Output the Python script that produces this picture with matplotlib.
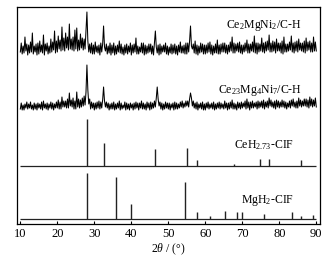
import numpy as np
import matplotlib
matplotlib.use('Agg')
import matplotlib.pyplot as plt

plt.rcParams['font.family'] = ['Liberation Serif', 'DejaVu Serif']
plt.rcParams['mathtext.fontset'] = 'custom'
plt.rcParams['mathtext.rm'] = 'Liberation Serif'
plt.rcParams['mathtext.it'] = 'Liberation Serif:italic'

# 2theta grid of the measured patterns (0.25 deg step, 10..90)
two_theta = np.arange(10, 90.001, 0.25)

# Ce2MgNi2/C-H measured intensity (a.u.), one row = 5 deg
ce2_mgni2 = [3, 12, 1, 9, 2, 18, 4, 11, 0, 10, 2, 13, 3, 22, 1, 9, 3, 11, 0, 12,
             1, 14, 3, 10, 2, 20, 0, 11, 4, 12, 1, 9, 2, 16, 3, 13, 5, 24, 2, 14,
             3, 19, 6, 15, 4, 28, 5, 17, 4, 22, 7, 18, 5, 31, 6, 16, 5, 18, 4, 25,
             6, 27, 4, 15, 5, 21, 7, 17, 5, 16, 6, 24, 43, 14, 3, 11, 2, 12, 1, 10,
             1, 13, 3, 9, 2, 10, 0, 12, 3, 11, 29, 8, 4, 11, 1, 9, 2, 12, 0, 10,
             2, 12, 0, 9, 1, 10, 3, 14, 2, 11, 1, 8, 0, 10, 2, 11, 1, 9, 3, 12,
             0, 10, 2, 11, 3, 17, 1, 9, 1, 8, 3, 12, 2, 12, 0, 10, 1, 9, 2, 11,
             3, 11, 1, 9, 0, 12, 24, 8, 2, 10, 0, 11, 1, 9, 3, 10, 3, 12, 1, 9,
             0, 8, 2, 11, 1, 10, 2, 11, 1, 9, 0, 10, 3, 13, 2, 9, 2, 10, 1, 12,
             1, 12, 3, 14, 29, 9, 6, 11, 2, 14, 1, 10, 0, 9, 2, 12, 3, 11, 1, 10,
             1, 10, 2, 12, 3, 13, 1, 10, 0, 9, 2, 11, 2, 15, 1, 10, 1, 11, 3, 12,
             3, 12, 2, 10, 1, 10, 3, 13, 4, 18, 2, 12, 2, 11, 4, 12, 3, 13, 2, 10,
             1, 10, 3, 12, 4, 15, 2, 11, 2, 11, 4, 13, 3, 19, 2, 12, 1, 12, 3, 11,
             4, 17, 3, 12, 2, 13, 4, 14, 5, 20, 3, 12, 3, 14, 4, 13, 2, 16, 4, 12,
             4, 12, 2, 14, 1, 18, 3, 11, 3, 11, 4, 13, 5, 19, 3, 12, 2, 13, 4, 14,
             3, 16, 5, 12, 4, 12, 3, 14, 2, 17, 4, 13, 5, 14, 3, 12, 3, 18, 4, 13,
             4]

# Ce23Mg4Ni7/C-H measured intensity (a.u.)
ce23_mg4ni7 = [1, 7, 0, 5, 0, 6, 2, 8, 1, 6, 2, 8, 1, 5, 0, 7, 1, 6, 0, 7,
               2, 6, 1, 8, 0, 9, 2, 6, 1, 7, 0, 6, 2, 8, 1, 7, 0, 6, 2, 8,
               2, 10, 1, 8, 1, 13, 3, 9, 3, 9, 2, 11, 2, 17, 4, 10, 3, 12, 1, 9,
               1, 18, 3, 11, 2, 10, 3, 12, 4, 14, 5, 18, 45, 20, 6, 11, 1, 8, 2, 7,
               0, 7, 1, 8, 2, 9, 1, 8, 2, 10, 23, 9, 3, 8, 2, 7, 0, 6, 1, 7,
               1, 8, 0, 6, 1, 7, 2, 9, 0, 7, 1, 5, 2, 8, 0, 7, 1, 6, 0, 7,
               2, 6, 0, 7, 1, 8, 2, 7, 0, 7, 2, 9, 1, 7, 1, 6, 0, 8, 2, 7,
               0, 8, 1, 7, 2, 9, 3, 12, 23, 11, 4, 8, 1, 7, 0, 6, 1, 8, 2, 7,
               1, 7, 0, 6, 2, 7, 0, 8, 1, 7, 1, 6, 2, 8, 3, 9, 2, 7, 3, 9,
               4, 9, 3, 11, 17, 12, 4, 9, 2, 7, 1, 8, 0, 6, 2, 7, 1, 8, 0, 6,
               0, 7, 2, 8, 1, 6, 2, 7, 1, 8, 0, 6, 1, 7, 2, 8, 1, 7, 2, 6,
               1, 9, 2, 7, 0, 7, 1, 8, 2, 10, 1, 7, 1, 6, 0, 8, 2, 7, 1, 8,
               2, 7, 3, 9, 1, 11, 2, 8, 0, 8, 2, 9, 2, 7, 3, 8, 1, 9, 2, 8,
               3, 9, 2, 10, 1, 8, 3, 9, 2, 12, 4, 10, 3, 8, 2, 9, 1, 10, 3, 9,
               2, 8, 3, 10, 3, 9, 2, 8, 1, 7, 3, 9, 2, 10, 4, 11, 3, 8, 2, 9,
               2, 12, 4, 10, 3, 9, 4, 11, 4, 11, 3, 10, 2, 13, 4, 11, 3, 10, 4, 12,
               3]

# reference patterns (peak position, relative intensity)
ceh_pos = [28.1, 32.5, 46.5, 55.1, 57.8, 67.7, 74.9, 77.1, 85.9]
ceh_int = [47, 23, 17, 18, 6, 2.4, 7.4, 6.8, 5.7]
mgh2_pos = [28.0, 35.8, 39.9, 54.6, 57.7, 61.3, 65.3, 68.7, 69.8, 75.8, 83.5, 85.9, 89.1]
mgh2_int = [46, 42.5, 15, 37.5, 7.3, 3.3, 7.6, 7, 7, 5, 7, 2.6, 4]

fig = plt.figure(figsize=(3.35, 2.63), dpi=100)
ax = fig.add_axes([17 / 335, 39 / 263, 303 / 335, 217 / 263])

# vertical offsets of the stacked patterns
off = [169, 114, 58, 5]

ax.plot(two_theta, np.array(ce2_mgni2) + off[0], color='black', lw=0.75)
ax.plot(two_theta, np.array(ce23_mg4ni7) + off[1], color='black', lw=0.75)

ax.hlines(off[2], 10, 90, color='#222222', lw=0.9)
ax.vlines(ceh_pos, off[2], np.array(ceh_int) + off[2], color='#222222', lw=1.0)
ax.hlines(off[3], 10, 90, color='#222222', lw=0.9)
ax.vlines(mgh2_pos, off[3], np.array(mgh2_int) + off[3], color='#222222', lw=1.0)

fs = 8.5
ax.text(86.0, 196, r'Ce$_2$MgNi$_2$/C-H', ha='right', va='baseline', fontsize=fs)
ax.text(86.0, 131, r'Ce$_{23}$Mg$_4$Ni$_7$/C-H', ha='right', va='baseline', fontsize=fs)
ax.text(84.1, 76, r'CeH$_{2.73}$-CIF', ha='right', va='baseline', fontsize=fs)
ax.text(84.1, 21, r'MgH$_2$-CIF', ha='right', va='baseline', fontsize=fs)

ax.set_xlim(9.1, 91)
ax.set_ylim(0, 217)
ax.set_xticks(np.arange(10, 91, 10))
ax.set_yticks([])
ax.tick_params(axis='x', direction='in', length=2, labelsize=9, pad=3)
ax.set_xlabel(r'$\mathit{2\theta}$ / (°)', fontsize=fs, labelpad=1)
for s in ax.spines.values():
    s.set_linewidth(0.9)

fig.savefig('out.png', dpi=100)
